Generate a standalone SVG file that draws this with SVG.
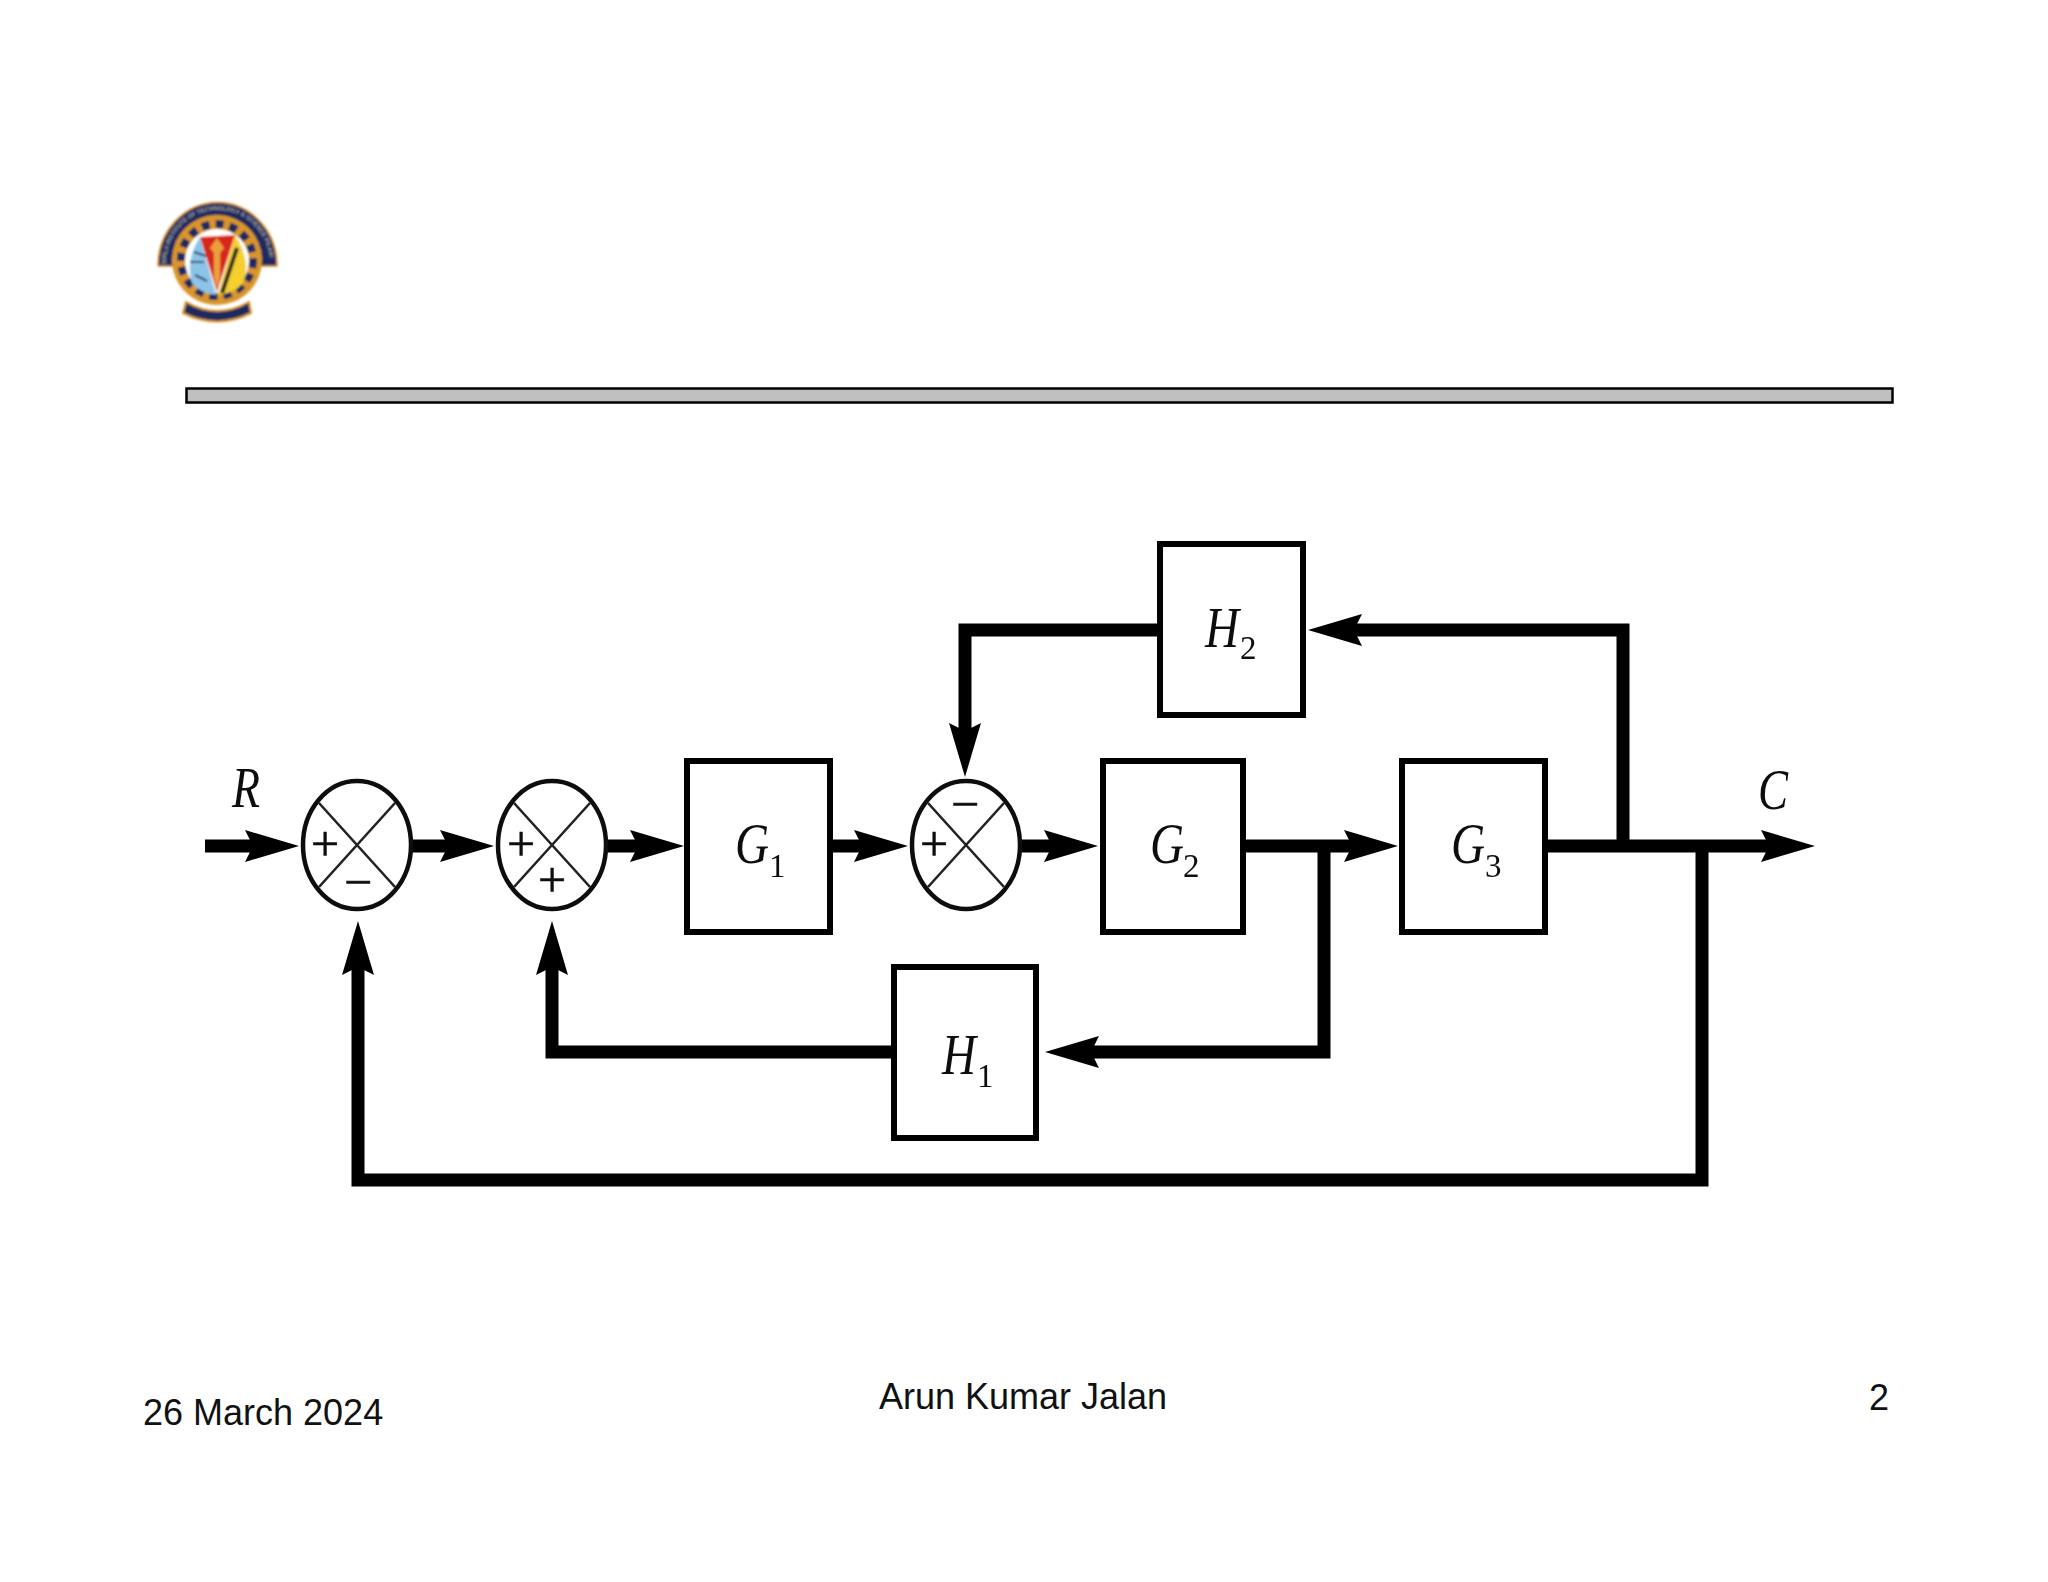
<svg xmlns="http://www.w3.org/2000/svg" width="2048" height="1582" viewBox="0 0 2048 1582">
<style>
.box{fill:#fff;stroke:#000;stroke-width:6}
.sum{fill:#fff;stroke:#111;stroke-width:4.5}
.x{stroke:#222;stroke-width:2.6;fill:none}
.wire{fill:none;stroke:#000;stroke-width:13;stroke-linejoin:miter}
.m{font-family:"Liberation Serif",serif;font-style:italic;font-size:56px;fill:#111}
.sub{font-family:"Liberation Serif",serif;font-size:33px;fill:#111}
.sign{font-family:"Liberation Serif",serif;font-size:50px;fill:#111;stroke:#111;stroke-width:.6;text-anchor:middle}
.foot{font-family:"Liberation Sans",sans-serif;font-size:36px;fill:#111}
</style>
<defs>
<marker id="ah" markerUnits="userSpaceOnUse" markerWidth="60" markerHeight="36" refX="8" refY="18" orient="auto" viewBox="0 0 60 36" overflow="visible">
<path d="M0 2L54 18L0 34L8 18Z" fill="#000"/>
</marker>
<filter id="soft" x="-5%" y="-5%" width="110%" height="110%"><feGaussianBlur stdDeviation="0.7"/></filter>
<filter id="softer" x="-5%" y="-5%" width="110%" height="110%"><feGaussianBlur stdDeviation="0.8"/></filter>
<path id="ringpath" d="M166 264A52 54 0 0 1 270 264"/>
</defs>
<rect width="2048" height="1582" fill="#fff"/>

<g id="logo" filter="url(#softer)">
<path d="M158 266A59 63 0 0 1 277 266L262 266H172Z" fill="#1c2a5e" stroke="#d9952a" stroke-width="1.500"/>
<circle cx="217" cy="260" r="45" fill="#d9952a"/>
<circle cx="217" cy="260" r="36" fill="none" stroke="#1c2a5e" stroke-width="8" stroke-dasharray="8 6"/>
<circle cx="217" cy="261" r="32" fill="#fff"/>
<path d="M200 237Q185 260 192 283Q200 293 216 295Z" fill="#8cc4e8"/>
<path d="M200 237L235 235L217 292Z" fill="#d8261f"/>
<path d="M235 235Q252 262 243 283Q235 293 218 295Z" fill="#f4cf2e"/>
<path d="M217 238l7 10l-4 5v24l-3 12l-3-12v-24l-4-5z" fill="#e9a13a"/>
<path d="M237 248L222 293" stroke="#222" stroke-width="4" fill="none"/>
<path d="M190 262h14M195 275l12 6M194 252l12 4" stroke="#24406e" stroke-width="2" fill="none"/>
<path d="M186 302Q217 320 249 302L251 313Q217 330 183 313Z" fill="#1c2a5e" stroke="#d9952a" stroke-width="2"/>
<text font-family="Liberation Sans,sans-serif" font-size="6" font-weight="bold" fill="#a9a6a0"><textPath href="#ringpath" textLength="160">BIRLA INSTITUTE OF TECHNOLOGY &amp; SCIENCE PILANI</textPath></text>
</g>

<g id="header-bar"><rect x="186.500" y="388.500" width="1706" height="14" fill="#c0c0c0" stroke="#000" stroke-width="2.500"/></g>

<g id="diagram" filter="url(#soft)">
<g id="connectors">
<path class="wire" d="M205 846H253" marker-end="url(#ah)"/>
<path class="wire" d="M412 846H448" marker-end="url(#ah)"/>
<path class="wire" d="M607 846H638" marker-end="url(#ah)"/>
<path class="wire" d="M832 846H862" marker-end="url(#ah)"/>
<path class="wire" d="M1020 846H1052" marker-end="url(#ah)"/>
<path class="wire" d="M1246 846H1352" marker-end="url(#ah)"/>
<path class="wire" d="M1548 846H1769" marker-end="url(#ah)"/>
<path class="wire" d="M1623 846V630H1354" marker-end="url(#ah)"/>
<path class="wire" d="M1157 630H965V731" marker-end="url(#ah)"/>
<path class="wire" d="M1324 846V1052H1091" marker-end="url(#ah)"/>
<path class="wire" d="M892 1052H552V967" marker-end="url(#ah)"/>
<path class="wire" d="M1702 846V1180H358V967" marker-end="url(#ah)"/>
</g>
<g id="S1"><ellipse class="sum" cx="357" cy="845" rx="54" ry="64"/><path class="x" d="M319 803L395 887M395 803L319 887"/><text class="sign" x="325" y="861">+</text><text class="sign" x="358" y="899">−</text></g>
<g id="S2"><ellipse class="sum" cx="552" cy="845" rx="54" ry="64"/><path class="x" d="M514 803L590 887M590 803L514 887"/><text class="sign" x="521" y="861">+</text><text class="sign" x="552" y="897">+</text></g>
<g id="S3"><ellipse class="sum" cx="966" cy="845" rx="54" ry="64"/><path class="x" d="M928 803L1004 887M1004 803L928 887"/><text class="sign" x="934" y="861">+</text><text class="sign" x="965" y="821">−</text></g>
<g id="G1"><rect class="box" x="687" y="761" width="143" height="171"/><text class="m" x="735" y="863" textLength="34" lengthAdjust="spacingAndGlyphs">G</text><text class="sub" x="769" y="877">1</text></g>
<g id="G2"><rect class="box" x="1103" y="761" width="140" height="171"/><text class="m" x="1150" y="863" textLength="34" lengthAdjust="spacingAndGlyphs">G</text><text class="sub" x="1183" y="877">2</text></g>
<g id="G3"><rect class="box" x="1402" y="761" width="143" height="171"/><text class="m" x="1451" y="863" textLength="34" lengthAdjust="spacingAndGlyphs">G</text><text class="sub" x="1485" y="877">3</text></g>
<g id="H1"><rect class="box" x="894" y="967" width="142" height="171"/><text class="m" x="942" y="1074" textLength="34" lengthAdjust="spacingAndGlyphs">H</text><text class="sub" x="977" y="1087">1</text></g>
<g id="H2"><rect class="box" x="1160" y="544" width="143" height="171"/><text class="m" x="1205" y="647" textLength="34" lengthAdjust="spacingAndGlyphs">H</text><text class="sub" x="1240" y="659">2</text></g>
<g id="labels"><text class="m" x="232" y="807" textLength="28" lengthAdjust="spacingAndGlyphs">R</text><text class="m" x="1758" y="809" textLength="30" lengthAdjust="spacingAndGlyphs">C</text></g>
</g>

<g id="footer">
<text class="foot" x="143" y="1425">26 March 2024</text>
<text class="foot" x="879" y="1409">Arun Kumar Jalan</text>
<text class="foot" x="1869" y="1410">2</text>
</g>
</svg>
